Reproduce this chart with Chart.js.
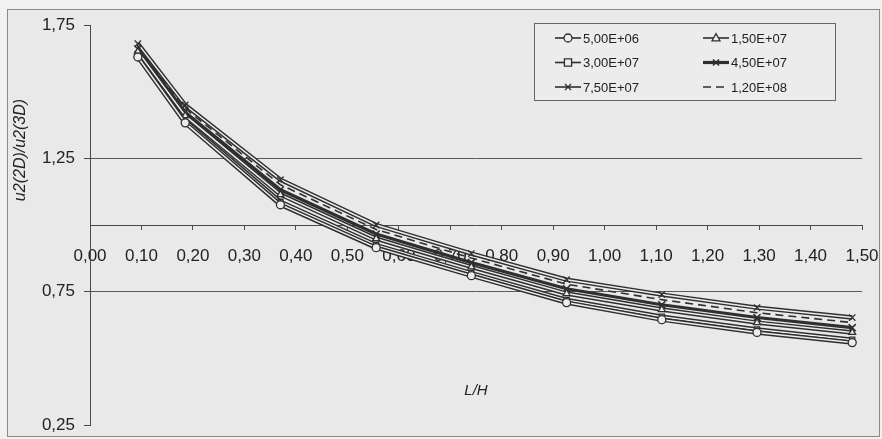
<!DOCTYPE html>
<html lang="pl">
<head>
  <meta charset="UTF-8">
  <title>u2(2D)/u2(3D) vs L/H</title>
  <script src="https://cdn.jsdelivr.net/npm/chart.js"></script>
  <style>
    body { margin: 0; background: #f1f1f1; }
    #wrap { width: 882px; height: 439px; position: relative; }
  </style>
</head>
<body>
  <div id="wrap"><canvas id="myChart"></canvas></div>

  <script>
    // L/H values of the points
    const lh = [0.093, 0.185, 0.370, 0.556, 0.741, 0.926, 1.111, 1.296, 1.481];

    // u2(2D)/u2(3D) per series
    const s5e6  = [1.630, 1.383, 1.076, 0.915, 0.810, 0.709, 0.645, 0.597, 0.559];
    const s15e7 = [1.650, 1.410, 1.114, 0.949, 0.843, 0.743, 0.683, 0.634, 0.597];
    const s3e7  = [1.636, 1.391, 1.087, 0.925, 0.820, 0.719, 0.656, 0.608, 0.570];
    const s45e7 = [1.660, 1.423, 1.132, 0.966, 0.859, 0.761, 0.701, 0.653, 0.615];
    const s75e7 = [1.680, 1.450, 1.170, 1.000, 0.893, 0.795, 0.739, 0.690, 0.653];
    const s12e8 = [1.670, 1.437, 1.151, 0.983, 0.876, 0.778, 0.720, 0.671, 0.634];

    const seriesNames = ['5,00E+06', '1,50E+07', '3,00E+07', '4,50E+07', '7,50E+07', '1,20E+08'];
    const yTicks = [0.25, 0.75, 1.25, 1.75];

    const INK = '#2f2f2f';
    const PAPER = '#ededed';
    const fmt = v => Number(v).toFixed(2).replace('.', ',');
    const pts = arr => arr.map((v, i) => ({ x: lh[i], y: v }));

    function ds(label, arr, style, opts) {
      return Object.assign({
        label: label,
        data: pts(arr),
        showLine: true,
        hollow: true,
        borderColor: PAPER,
        borderWidth: 1.5,
        pointStyle: style,
        pointRadius: 4,
        pointBorderWidth: 1.3,
        pointBorderColor: INK,
        pointBackgroundColor: PAPER
      }, opts || {});
    }

    const datasets = [
      ds(seriesNames[0], s5e6, 'circle'),
      ds(seriesNames[1], s15e7, 'triangle'),
      ds(seriesNames[2], s3e7, 'rect', { pointRadius: 3.6 }),
      ds(seriesNames[3], s45e7, 'crossRot', { hollow: false, borderColor: INK, borderWidth: 3.2, pointRadius: 5, pointBorderWidth: 1.6 }),
      ds(seriesNames[4], s75e7, 'crossRot', { pointRadius: 4.5 }),
      ds(seriesNames[5], s12e8, false, { hollow: false, borderColor: INK, borderDash: [8, 5], borderWidth: 1.6, pointRadius: 0 })
    ];

    function marker(ctx, style, r, x, y, bw) {
      if (!style) return;
      ctx.save();
      ctx.lineWidth = bw;
      ctx.strokeStyle = INK;
      ctx.fillStyle = PAPER;
      ctx.setLineDash([]);
      ctx.beginPath();
      if (style === 'circle') {
        ctx.arc(x, y, r, 0, Math.PI * 2);
        ctx.fill(); ctx.stroke();
      } else if (style === 'rect') {
        ctx.rect(x - r, y - r, 2 * r, 2 * r);
        ctx.fill(); ctx.stroke();
      } else if (style === 'triangle') {
        ctx.moveTo(x, y - r * 1.1);
        ctx.lineTo(x + r, y + r * 0.7);
        ctx.lineTo(x - r, y + r * 0.7);
        ctx.closePath();
        ctx.fill(); ctx.stroke();
      } else {
        const d = r * 0.75;
        ctx.moveTo(x - d, y - d); ctx.lineTo(x + d, y + d);
        ctx.moveTo(x + d, y - d); ctx.lineTo(x - d, y + d);
        ctx.stroke();
      }
      ctx.restore();
    }

    const frame = {
      id: 'frame',
      beforeDraw(chart) {
        const ctx = chart.ctx;
        ctx.save();
        ctx.fillStyle = '#f1f1f1';
        ctx.fillRect(0, 0, chart.width, chart.height);
        ctx.fillStyle = '#e9e9e9';
        ctx.fillRect(7, 9, 873, 428);
        ctx.strokeStyle = '#8a8a8a';
        ctx.lineWidth = 1;
        ctx.strokeRect(7.5, 9.5, 872, 427);
        ctx.restore();
      }
    };

    // dark outline under the light line, like the printed double stroke
    const outline = {
      id: 'outline',
      beforeDatasetDraw(chart, args) {
        const d = chart.data.datasets[args.index];
        if (!d.hollow) return;
        const pts = args.meta.data;
        const ctx = chart.ctx;
        ctx.save();
        ctx.strokeStyle = INK;
        ctx.lineWidth = 4.4;
        ctx.lineJoin = 'round';
        ctx.beginPath();
        pts.forEach((p, i) => i ? ctx.lineTo(p.x, p.y) : ctx.moveTo(p.x, p.y));
        ctx.stroke();
        ctx.restore();
      }
    };

    const extras = {
      id: 'extras',
      afterDraw(chart) {
        const ctx = chart.ctx;
        const xs = chart.scales.x, ys = chart.scales.y;
        ctx.save();
        ctx.fillStyle = '#222';
        ctx.font = 'italic 15px "Liberation Sans", Arial, sans-serif';
        ctx.textAlign = 'center';
        ctx.textBaseline = 'middle';
        ctx.fillText('L/H', xs.getPixelForValue(0.75), ys.getPixelForValue(0.38));
        ctx.translate(21, 150);
        ctx.rotate(-Math.PI / 2);
        ctx.font = 'italic 16px "Liberation Sans", Arial, sans-serif';
        ctx.fillText('u2(2D)/u2(3D)', 0, 0);
        ctx.restore();

        // legend box
        ctx.save();
        ctx.fillStyle = '#ececec';
        ctx.fillRect(534, 23, 301, 77);
        ctx.strokeStyle = '#666';
        ctx.lineWidth = 1;
        ctx.strokeRect(534.5, 23.5, 301, 77);
        ctx.font = '13px "Liberation Sans", Arial, sans-serif';
        ctx.textBaseline = 'middle';
        ctx.textAlign = 'left';
        chart.data.datasets.forEach((d, i) => {
          const col = i % 2, row = Math.floor(i / 2);
          const x0 = col === 0 ? 555 : 703;
          const y0 = 38 + row * 24.5;
          ctx.save();
          ctx.strokeStyle = INK;
          ctx.lineWidth = d.hollow ? 1.6 : d.borderWidth;
          ctx.setLineDash(d.borderDash || []);
          ctx.beginPath();
          ctx.moveTo(x0, y0);
          ctx.lineTo(x0 + 26, y0);
          ctx.stroke();
          ctx.restore();
          marker(ctx, d.pointStyle, Math.min(d.pointRadius, 4), x0 + 13, y0, d.pointBorderWidth);
          ctx.fillStyle = '#222';
          ctx.fillText(d.label, x0 + 28, y0 + 1);
        });
        ctx.restore();
      }
    };

    new Chart(document.getElementById('myChart'), {
      type: 'scatter',
      data: { datasets: datasets },
      plugins: [frame, outline, extras],
      options: {
        responsive: true,
        maintainAspectRatio: false,
        animation: false,
        layout: { padding: { left: 0, top: 25, right: 20, bottom: 14 } },
        plugins: { legend: { display: false }, tooltip: { enabled: false } },
        scales: {
          x: {
            type: 'linear',
            position: { y: 1.0 },
            min: 0, max: 1.5,
            afterFit: s => { s.paddingLeft = 0; s.paddingRight = 0; },
            border: { display: true, color: '#4a4a4a', width: 1 },
            grid: { drawOnChartArea: false, tickLength: 4, tickColor: '#4a4a4a' },
            ticks: {
              stepSize: 0.1,
              padding: 17,
              color: '#222',
              font: { family: '"Liberation Sans", Arial, sans-serif', size: 17 },
              callback: v => fmt(v)
            }
          },
          y: {
            type: 'linear',
            min: 0.25, max: 1.75,
            afterFit: s => { s.width = 90; s.paddingTop = 0; s.paddingBottom = 0; },
            afterBuildTicks: s => { s.ticks = yTicks.map(v => ({ value: v })); },
            border: { display: true, color: '#4a4a4a', width: 1 },
            grid: {
              color: c => (c.tick && (c.tick.value === 0.75 || c.tick.value === 1.25)) ? '#5a5a5a' : 'rgba(0,0,0,0)',
              tickColor: '#4a4a4a',
              tickLength: 6
            },
            ticks: {
              padding: 9,
              color: '#222',
              font: { family: '"Liberation Sans", Arial, sans-serif', size: 17 },
              callback: v => fmt(v)
            }
          }
        }
      }
    });
  </script>
</body>
</html>
